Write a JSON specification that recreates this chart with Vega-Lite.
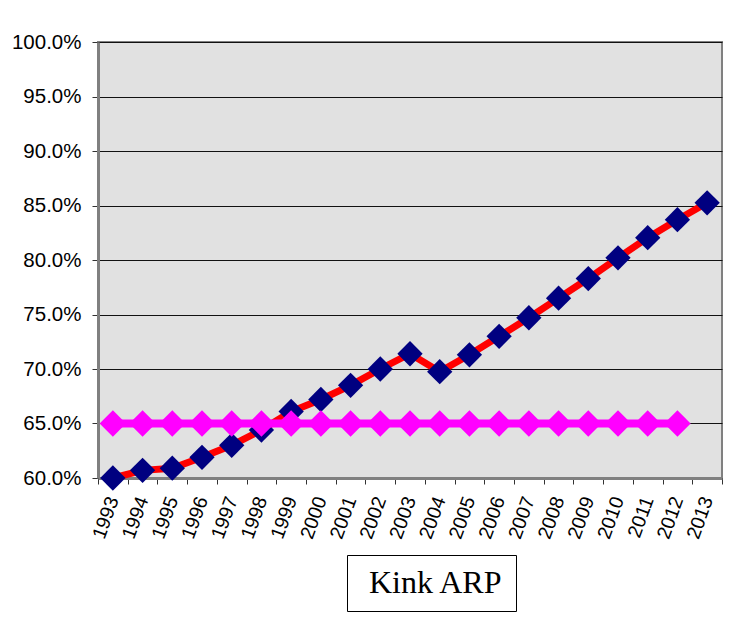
{
  "$schema": "https://vega.github.io/schema/vega-lite/v6.json",
  "width": 624,
  "height": 436,
  "autosize": "none",
  "padding": {"left": 98, "top": 42, "right": 18, "bottom": 139},
  "background": "white",
  "data": {
    "values": [
      {"year": "1993", "series": "Kink ARP", "value": 0.600},
      {"year": "1994", "series": "Kink ARP", "value": 0.607},
      {"year": "1995", "series": "Kink ARP", "value": 0.609},
      {"year": "1996", "series": "Kink ARP", "value": 0.619},
      {"year": "1997", "series": "Kink ARP", "value": 0.630},
      {"year": "1998", "series": "Kink ARP", "value": 0.644},
      {"year": "1999", "series": "Kink ARP", "value": 0.661},
      {"year": "2000", "series": "Kink ARP", "value": 0.672},
      {"year": "2001", "series": "Kink ARP", "value": 0.685},
      {"year": "2002", "series": "Kink ARP", "value": 0.700},
      {"year": "2003", "series": "Kink ARP", "value": 0.714},
      {"year": "2004", "series": "Kink ARP", "value": 0.6975},
      {"year": "2005", "series": "Kink ARP", "value": 0.713},
      {"year": "2006", "series": "Kink ARP", "value": 0.730},
      {"year": "2007", "series": "Kink ARP", "value": 0.747},
      {"year": "2008", "series": "Kink ARP", "value": 0.765},
      {"year": "2009", "series": "Kink ARP", "value": 0.783},
      {"year": "2010", "series": "Kink ARP", "value": 0.802},
      {"year": "2011", "series": "Kink ARP", "value": 0.8205},
      {"year": "2012", "series": "Kink ARP", "value": 0.837},
      {"year": "2013", "series": "Kink ARP", "value": 0.8525},
      {"year": "1993", "series": "Threshold", "value": 0.65},
      {"year": "1994", "series": "Threshold", "value": 0.65},
      {"year": "1995", "series": "Threshold", "value": 0.65},
      {"year": "1996", "series": "Threshold", "value": 0.65},
      {"year": "1997", "series": "Threshold", "value": 0.65},
      {"year": "1998", "series": "Threshold", "value": 0.65},
      {"year": "1999", "series": "Threshold", "value": 0.65},
      {"year": "2000", "series": "Threshold", "value": 0.65},
      {"year": "2001", "series": "Threshold", "value": 0.65},
      {"year": "2002", "series": "Threshold", "value": 0.65},
      {"year": "2003", "series": "Threshold", "value": 0.65},
      {"year": "2004", "series": "Threshold", "value": 0.65},
      {"year": "2005", "series": "Threshold", "value": 0.65},
      {"year": "2006", "series": "Threshold", "value": 0.65},
      {"year": "2007", "series": "Threshold", "value": 0.65},
      {"year": "2008", "series": "Threshold", "value": 0.65},
      {"year": "2009", "series": "Threshold", "value": 0.65},
      {"year": "2010", "series": "Threshold", "value": 0.65},
      {"year": "2011", "series": "Threshold", "value": 0.65},
      {"year": "2012", "series": "Threshold", "value": 0.65}
    ]
  },
  "encoding": {
    "x": {
      "field": "year",
      "type": "ordinal",
      "scale": {"type": "band", "paddingInner": 0, "paddingOuter": 0,
        "domain": ["1993","1994","1995","1996","1997","1998","1999","2000","2001","2002","2003","2004","2005","2006","2007","2008","2009","2010","2011","2012","2013"]},
      "axis": {
        "title": null,
        "labelAngle": -70,
        "labelFont": "Liberation Sans",
        "labelFontSize": 19.5,
        "labelColor": "black",
        "labelPadding": 13,
        "tickBand": "extent",
        "tickSize": 6,
        "tickColor": "#333333",
        "domainColor": "#808080",
        "domainWidth": 3,
        "grid": false
      }
    },
    "y": {
      "field": "value",
      "type": "quantitative",
      "scale": {"domain": [0.6, 1.0], "zero": false, "nice": false},
      "axis": {
        "title": null,
        "values": [0.6, 0.65, 0.7, 0.75, 0.8, 0.85, 0.9, 0.95, 1.0],
        "format": ".1%",
        "labelFont": "Liberation Sans",
        "labelFontSize": 20.5,
        "labelColor": "black",
        "labelPadding": 11,
        "tickSize": 6,
        "tickColor": "#333333",
        "domainColor": "#808080",
        "domainWidth": 3,
        "grid": true,
        "gridColor": "#111111",
        "gridWidth": 1
      }
    }
  },
  "layer": [
    {
      "transform": [{"filter": "datum.series === 'Kink ARP'"}],
      "mark": {"type": "line", "strokeWidth": 7},
      "encoding": {
        "color": {
          "field": "series",
          "type": "nominal",
          "scale": {"domain": ["Kink ARP"], "range": ["#ff0000"]},
          "legend": {
            "title": null,
            "orient": "none",
            "legendX": 249,
            "legendY": 513,
            "strokeColor": "black",
            "fillColor": "white",
            "padding": 12,
            "symbolSize": 0,
            "symbolStrokeWidth": 0,
            "symbolOpacity": 0,
            "labelOffset": -22,
            "labelFont": "Liberation Serif",
            "labelFontSize": 32,
            "labelColor": "black",
            "labelLimit": 400
          }
        }
      }
    },
    {
      "transform": [{"filter": "datum.series === 'Kink ARP'"}],
      "mark": {"type": "point", "shape": "diamond", "filled": true, "size": 640, "color": "#000080", "opacity": 1}
    },
    {
      "transform": [{"filter": "datum.series === 'Threshold'"}],
      "mark": {"type": "line", "strokeWidth": 8, "color": "#ff00ff"}
    },
    {
      "transform": [{"filter": "datum.series === 'Threshold'"}],
      "mark": {"type": "point", "shape": "diamond", "filled": true, "size": 700, "color": "#ff00ff", "opacity": 1}
    }
  ],
  "config": {
    "view": {"fill": "#e1e1e1", "stroke": "#808080", "strokeWidth": 2}
  }
}
